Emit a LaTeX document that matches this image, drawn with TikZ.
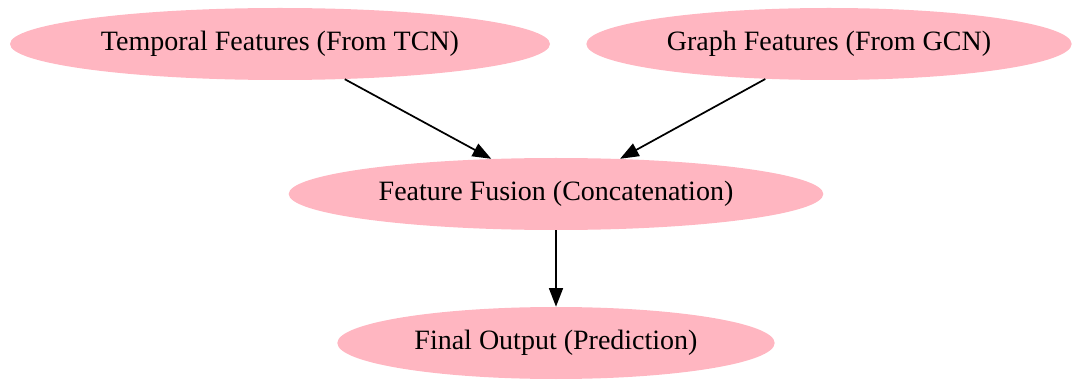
\documentclass[tikz,border=0pt]{standalone}
\usepackage{fontspec}
\setmainfont{Liberation Serif}
\usetikzlibrary{shapes.geometric,arrows.meta}
\definecolor{lightpink}{RGB}{255,182,193}
\tikzset{
  feature/.style={ellipse, fill=lightpink, inner sep=0pt, minimum height=54pt, font=\fontsize{21pt}{24pt}\selectfont},
  flow/.style={-{Triangle[length=14pt,width=10.5pt]}, line width=1.3pt}
}
\begin{document}
\begin{tikzpicture}[x=0.75pt, y=0.75pt]
  \useasboundingbox (0,0) rectangle (1072,379);
  % Nodes
  \node (temporal) [feature, minimum width=405pt] at (280, 335) {Temporal Features (From TCN)};
  \node (graph) [feature, minimum width=364pt] at (829, 335) {Graph Features (From GCN)};
  \node (fusion) [feature, minimum width=401pt] at (556, 185) {Feature Fusion (Concatenation)};
  \node (output) [feature, minimum width=328pt] at (556, 36) {Final Output (Prediction)};
  % Arrow
  \draw[flow] (temporal) -- (fusion);
  \draw[flow] (graph) -- (fusion);
  \draw[flow] (fusion) -- (output);
\end{tikzpicture}
\end{document}
